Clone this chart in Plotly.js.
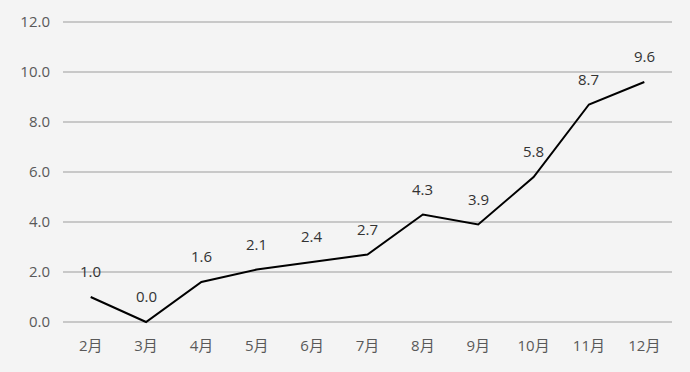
<!DOCTYPE html>
<html>
<head>
<meta charset="utf-8">
<script src="https://cdn.plot.ly/plotly-3.0.1.min.js"></script>
<style>html,body{margin:0;padding:0;background:#f4f4f4;}#chart{width:690px;height:372px;}</style>
</head>
<body>
<div id="chart"></div>
<script>
const months = ["2月","3月","4月","5月","6月","7月","8月","9月","10月","11月","12月"];
const values = [1.0, 0.0, 1.6, 2.1, 2.4, 2.7, 4.3, 3.9, 5.8, 8.7, 9.6];
const yTicks = [0, 2, 4, 6, 8, 10, 12];

const font = "'Open Sans', 'Noto Sans CJK SC', sans-serif";

const trace = {
  x: months,
  y: values,
  type: 'scatter',
  mode: 'lines',
  line: {color: '#000000', width: 2},
  hoverinfo: 'none'
};

const annotations = months.map((m, i) => ({
  x: m, y: values[i], text: values[i].toFixed(1),
  showarrow: false, yshift: 26, xanchor: 'center', yanchor: 'middle',
  font: {family: font, size: 15, color: '#333333'}
}));

const layout = {
  width: 690, height: 372,
  paper_bgcolor: '#f4f4f4', plot_bgcolor: '#f4f4f4',
  margin: {l: 63, r: 18, t: 17, b: 45},
  showlegend: false,
  xaxis: {
    type: 'category', range: [-0.5, 10.5],
    showgrid: false, zeroline: false, showline: false, ticks: '',
    tickfont: {family: font, size: 15, color: '#595959'},
    ticklabelstandoff: 8
  },
  yaxis: {
    range: [-0.2, 12.2], tickvals: yTicks, ticktext: yTicks.map(v => v.toFixed(1)),
    showgrid: true, gridcolor: '#c8c8c8', gridwidth: 1.5,
    zeroline: false, showline: false, ticks: '',
    tickfont: {family: font, size: 15, color: '#595959'},
    ticklabelstandoff: 12
  },
  annotations: annotations
};

Plotly.newPlot('chart', [trace], layout, {displayModeBar: false, staticPlot: true});
</script>
</body>
</html>
